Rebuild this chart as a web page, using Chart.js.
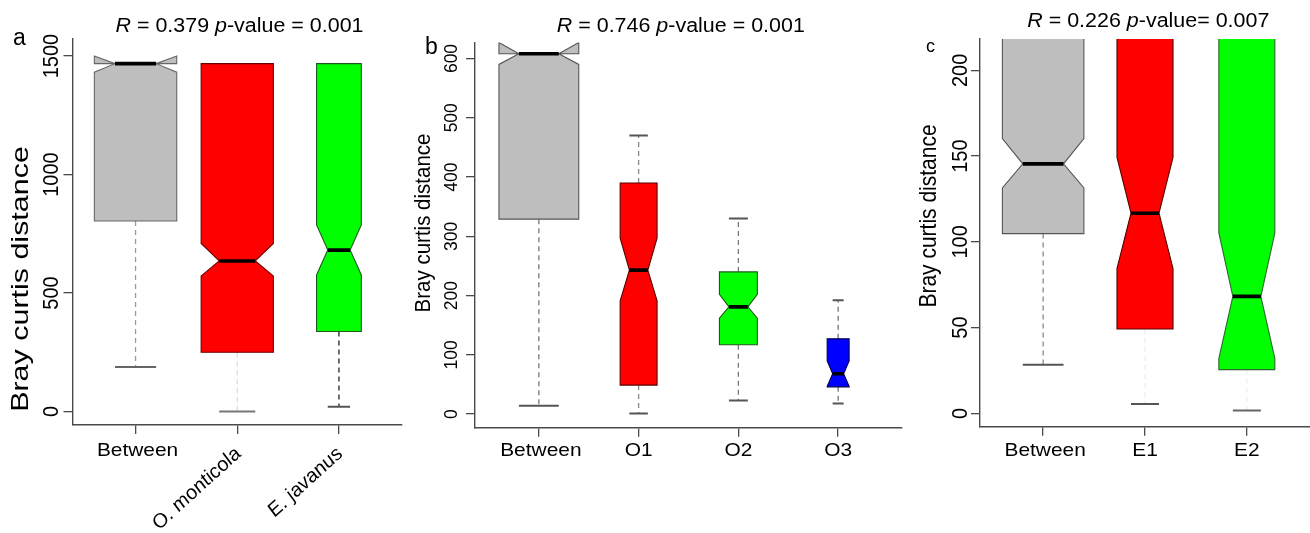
<!DOCTYPE html>
<html><head><meta charset="utf-8">
<script src="https://cdn.jsdelivr.net/npm/chart.js@4.4.1/dist/chart.umd.min.js"></script>
<style>
html,body{margin:0;padding:0;background:#fff;}
#wrap{position:relative;width:1310px;height:533px;overflow:hidden;background:#fff;}
#wrap canvas{position:absolute;left:0;top:0;}
</style></head><body>
<div id="wrap">
<canvas id="ca" width="1310" height="533"></canvas>
<canvas id="cb" width="1310" height="533"></canvas>
<canvas id="cc" width="1310" height="533"></canvas>
</div>
<script>
// ---------- DATA ----------
// Panel a
const categoriesA   = ['Between', 'O. monticola', 'E. javanus'];
const lowerWhiskerA = [187, 0, 20];
const q1A           = [804, 250, 337];
const notchLowA     = [1432, 572, 576];
const medianA       = [1468, 635, 681];
const notchHighA    = [1500, 709, 787];
const q3A           = [1468, 1468, 1468];
const upperWhiskerA = [1468, 1468, 1468];
const yTicksA       = [0, 500, 1000, 1500];

// Panel b
const categoriesB   = ['Between', 'O1', 'O2', 'O3'];
const lowerWhiskerB = [14, 1, 23, 18];
const q1B           = [329, 49, 117, 46];
const notchLowB     = [590, 191, 162, 47];
const medianB       = [608, 243, 181, 68];
const notchHighB    = [627, 297, 202, 90];
const q3B           = [608, 390, 240, 127];
const upperWhiskerB = [608, 470, 330, 192];
const yTicksB       = [0, 100, 200, 300, 400, 500, 600];

// Panel c (upper quartiles lie above the visible range, estimated)
const categoriesC   = ['Between', 'E1', 'E2'];
const lowerWhiskerC = [28.3, 5.5, 1.6];
const q1C           = [104.8, 49.2, 25.5];
const notchLowC     = [131.4, 84.4, 31.9];
const medianC       = [145.5, 116.7, 68.2];
const notchHighC    = [160.2, 149.3, 105.2];
const q3C           = [235, 235, 235];
const upperWhiskerC = [235, 235, 235];
const yTicksC       = [0, 50, 100, 150, 200];

const titleValuesA = ['0.379', ' = 0.001'];
const titleValuesB = ['0.746', ' = 0.001'];
const titleValuesC = ['0.226', '= 0.007'];
const yTitle = 'Bray curtis distance';

// ---------- STYLE / LAYOUT ----------
const W = 1310, H = 533, XH = 20, YW = 20;
const AX = '#4a4a4a';
const FONT = '"Liberation Sans", Arial, Helvetica, sans-serif';
const GSX = 1.1; // horizontal stretch of the reference image

const panels = [
  { id:'ca', cat:categoriesA, lw:lowerWhiskerA, q1:q1A, nl:notchLowA, med:medianA, nh:notchHighA, q3:q3A, uw:upperWhiskerA, yTicks:yTicksA,
    area:{left:72.5, right:402, top:39, bottom:425}, xmin:0.38, xmax:3.62, ymin:-57.4, ymax:1572,
    widths:[0.81, 0.71, 0.44],
    fills:['#BEBEBE','#FF0000','#00FF00'], borders:['#666','#6a0000','#1d5a1d'],
    whisk:['#9a9a9a','#dcdcdc','#222'], caps:['#666','#777','#555'],
    title:titleValuesA, titleX:239.5, titleY:31.6,
    letter:'a', letterX:13, letterY:44.5, letterSize:23,
    yTickX:58.3, yTickSize:20, yTitleX:27.5, yTitleY:279, yTitleSize:21, yTitleStretch:1.45,
    xLabelY:455.6, rotated:true },
  { id:'cb', cat:categoriesB, lw:lowerWhiskerB, q1:q1B, nl:notchLowB, med:medianB, nh:notchHighB, q3:q3B, uw:upperWhiskerB, yTicks:yTicksB,
    area:{left:475, right:902, top:42.5, bottom:427.7}, xmin:0.36, xmax:4.64, ymin:-22.9, ymax:627,
    widths:[0.80, 0.37, 0.38, 0.22],
    fills:['#BEBEBE','#FF0000','#00FF00','#0000FF'], borders:['#555','#550000','#1d5a1d','#000050'],
    whisk:['#777','#888','#777','#777'], caps:['#555','#555','#555','#555'],
    title:titleValuesB, titleX:680.8, titleY:32,
    letter:'b', letterX:425, letterY:54.4, letterSize:23,
    yTickX:457, yTickSize:17.5, yTitleX:430, yTitleY:223, yTitleSize:20.5, yTitleStretch:1.0,
    xLabelY:455.6, rotated:false },
  { id:'cc', cat:categoriesC, lw:lowerWhiskerC, q1:q1C, nl:notchLowC, med:medianC, nh:notchHighC, q3:q3C, uw:upperWhiskerC, yTicks:yTicksC,
    area:{left:980, right:1310, top:39, bottom:426.7}, xmin:0.38, xmax:3.62, ymin:-7.8, ymax:218.3,
    widths:[0.80, 0.55, 0.55],
    fills:['#BEBEBE','#FF0000','#00FF00'], borders:['#555','#550000','#2a6a2a'],
    whisk:['#888','#eeeeee','#eeeeee'], caps:['#555','#555','#666'],
    title:titleValuesC, titleX:1148.3, titleY:27,
    letter:'c', letterX:926, letterY:51.7, letterSize:18,
    yTickX:966.7, yTickSize:20, yTitleX:936, yTitleY:216, yTitleSize:21, yTitleStretch:1.0,
    xLabelY:455.6, rotated:false }
];

// rich text: segs = [{t, italic}], rot in radians, align 'left'|'center'|'right'
function drawRich(ctx, segs, x, y, o) {
  ctx.save();
  ctx.translate(x, y);
  ctx.scale(o.gsx || 1, o.gsy || 1);
  ctx.rotate(o.rot || 0);
  ctx.textBaseline = o.baseline || 'alphabetic';
  ctx.textAlign = 'left';
  ctx.fillStyle = o.color || '#000';
  const fontOf = s => (s.italic ? 'italic ' : '') + o.size + 'px ' + FONT;
  let total = 0;
  segs.forEach(s => { ctx.font = fontOf(s); total += ctx.measureText(s.t).width; });
  let cx = o.align === 'center' ? -total / 2 : (o.align === 'right' ? -total : 0);
  segs.forEach(s => { ctx.font = fontOf(s); ctx.fillText(s.t, cx, 0); cx += ctx.measureText(s.t).width; });
  ctx.restore();
}

function boxPlugin(P) {
  return {
    id: 'notchedBoxes_' + P.id,
    afterDatasetsDraw(chart) {
      const ctx = chart.ctx, xs = chart.scales.x, ys = chart.scales.y, a = chart.chartArea;
      const Y = v => ys.getPixelForValue(v);
      ctx.save();
      ctx.beginPath(); ctx.rect(a.left, a.top, a.right - a.left, a.bottom - a.top); ctx.clip();
      P.cat.forEach((c, i) => {
        const cx = xs.getPixelForValue(i + 1);
        const hw = xs.getPixelForValue(i + 1 + P.widths[i] / 2) - cx;
        const nw = hw * 0.5, sw = hw * 0.5;
        // whiskers
        ctx.lineWidth = 1.3; ctx.strokeStyle = P.whisk[i]; ctx.setLineDash([5, 4]);
        ctx.beginPath(); ctx.moveTo(cx, Y(P.q1[i])); ctx.lineTo(cx, Y(P.lw[i])); ctx.stroke();
        if (P.uw[i] > P.q3[i]) { ctx.beginPath(); ctx.moveTo(cx, Y(P.q3[i])); ctx.lineTo(cx, Y(P.uw[i])); ctx.stroke(); }
        ctx.setLineDash([]); ctx.strokeStyle = P.caps[i]; ctx.lineWidth = 2;
        ctx.beginPath(); ctx.moveTo(cx - sw, Y(P.lw[i])); ctx.lineTo(cx + sw, Y(P.lw[i])); ctx.stroke();
        if (P.uw[i] > P.q3[i]) { ctx.beginPath(); ctx.moveTo(cx - sw, Y(P.uw[i])); ctx.lineTo(cx + sw, Y(P.uw[i])); ctx.stroke(); }
        // notched box (R bxp polygon)
        const pts = [[cx - hw, P.q1[i]], [cx - hw, P.nl[i]], [cx - nw, P.med[i]], [cx - hw, P.nh[i]], [cx - hw, P.q3[i]],
                     [cx + hw, P.q3[i]], [cx + hw, P.nh[i]], [cx + nw, P.med[i]], [cx + hw, P.nl[i]], [cx + hw, P.q1[i]]];
        ctx.beginPath();
        pts.forEach((p, k) => { k ? ctx.lineTo(p[0], Y(p[1])) : ctx.moveTo(p[0], Y(p[1])); });
        ctx.closePath();
        ctx.fillStyle = P.fills[i]; ctx.fill();
        ctx.lineWidth = 1.1; ctx.strokeStyle = P.borders[i]; ctx.stroke();
        // median
        ctx.lineWidth = 3.6; ctx.strokeStyle = '#000';
        ctx.beginPath(); ctx.moveTo(cx - nw, Y(P.med[i])); ctx.lineTo(cx + nw, Y(P.med[i])); ctx.stroke();
      });
      ctx.restore();
    },
    afterDraw(chart) {
      const ctx = chart.ctx, xs = chart.scales.x, ys = chart.scales.y;
      // title
      drawRich(ctx, [{t:'R', italic:true}, {t:' = ' + P.title[0] + ' '}, {t:'p', italic:true}, {t:'-value' + P.title[1]}],
        P.titleX, P.titleY, {size:19.5, align:'center', gsx:GSX});
      // panel letter
      drawRich(ctx, [{t:P.letter}], P.letterX, P.letterY, {size:P.letterSize, align:'left', gsx:1.0});
      // y tick labels (rotated, parallel to axis)
      P.yTicks.forEach(v => {
        drawRich(ctx, [{t:String(v)}], P.yTickX, ys.getPixelForValue(v), {size:P.yTickSize, align:'center', rot:-Math.PI/2, gsx:GSX});
      });
      // y title
      drawRich(ctx, [{t:yTitle}], P.yTitleX, P.yTitleY, {size:P.yTitleSize, align:'center', rot:-Math.PI/2, gsx:GSX, gsy:P.yTitleStretch});
      // x labels
      P.cat.forEach((c, i) => {
        const px = xs.getPixelForValue(i + 1);
        if (P.rotated && i > 0) {
          drawRich(ctx, [{t:c, italic:true}], px + 1, 451, {size:19, align:'right', baseline:'middle', rot:-Math.PI/4, gsx:GSX});
        } else {
          drawRich(ctx, [{t:c}], px + (c === 'Between' ? 2 : 0), P.xLabelY, {size:19, align:'center', gsx:GSX});
        }
      });
    }
  };
}

function makeChart(P) {
  const pad = { left: P.area.left - YW, right: W - P.area.right, top: P.area.top, bottom: H - P.area.bottom - XH };
  const axisCommon = {
    ticks: { display: false },
    grid: { display: true, drawOnChartArea: false, drawTicks: true, tickLength: 9, color: AX, lineWidth: 1.3 },
    border: { display: true, color: AX, width: 1.4 }
  };
  return new Chart(document.getElementById(P.id), {
    type: 'scatter',
    data: { datasets: [{ data: P.med.map((m, i) => ({ x: i + 1, y: m })), pointRadius: 0, pointHoverRadius: 0 }] },
    options: {
      responsive: false, animation: false, devicePixelRatio: 1,
      layout: { padding: pad },
      plugins: { legend: { display: false }, tooltip: { enabled: false }, title: { display: false } },
      scales: {
        x: Object.assign({ type: 'linear', min: P.xmin, max: P.xmax,
          afterBuildTicks: s => { s.ticks = P.cat.map((c, i) => ({ value: i + 1 })); },
          afterFit: s => { s.height = XH; } }, axisCommon),
        y: Object.assign({ type: 'linear', min: P.ymin, max: P.ymax,
          afterBuildTicks: s => { s.ticks = P.yTicks.map(v => ({ value: v })); },
          afterFit: s => { s.width = YW; } }, axisCommon)
      }
    },
    plugins: [boxPlugin(P)]
  });
}

panels.forEach(makeChart);
</script>
</body></html>
